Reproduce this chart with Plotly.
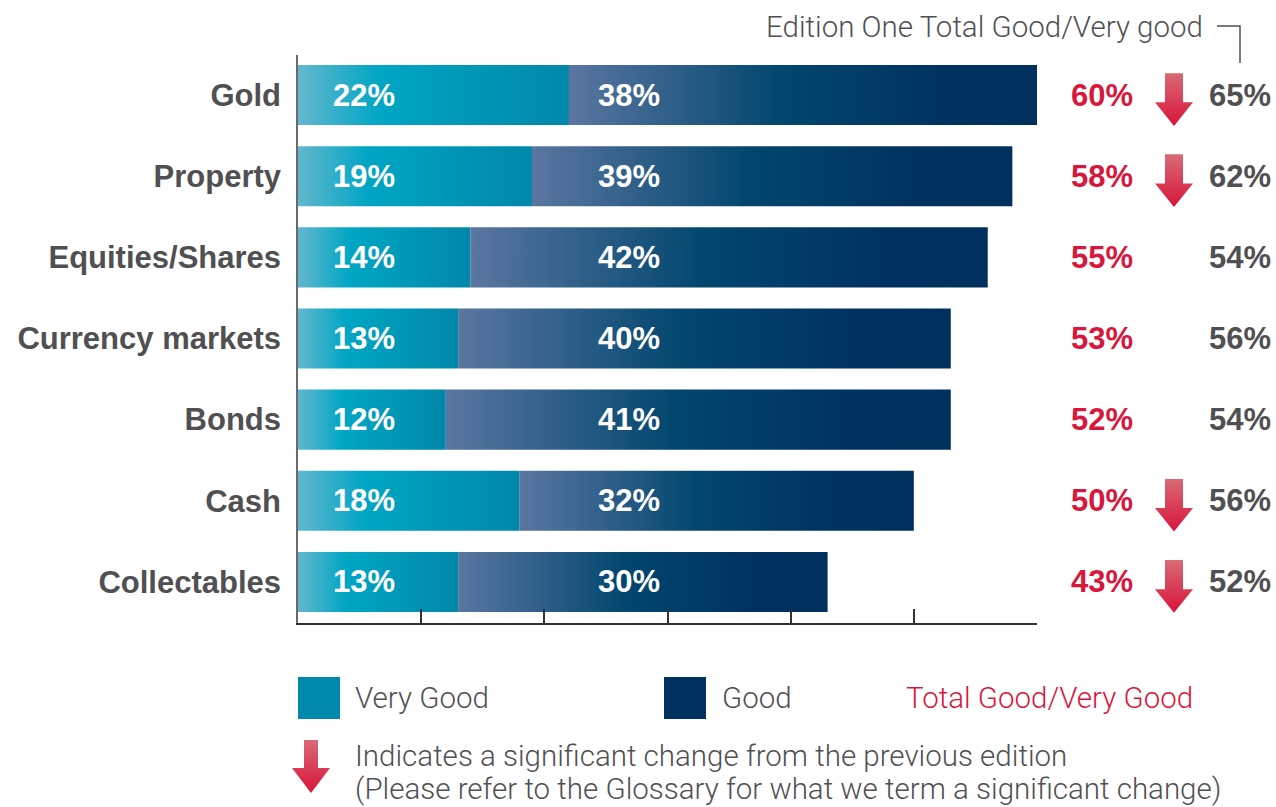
import plotly.graph_objects as go

# Asset classes, top to bottom
categories = ["Gold", "Property", "Equities/Shares", "Currency markets", "Bonds", "Cash", "Collectables"]
very_good = [22, 19, 14, 13, 12, 18, 13]
good = [38, 39, 42, 40, 41, 32, 30]
total = [60, 58, 55, 53, 52, 50, 43]
edition_one = [65, 62, 54, 56, 54, 56, 52]
significant_drop = [True, True, False, False, False, True, True]
x_ticks = [0, 10, 20, 30, 40, 50, 60]

W, H = 1276, 807
PLOT_L, PLOT_R = 298, 1037
PLOT_T, PLOT_B = 54.5, 622.5
HALF = 0.37

GREY = "#505052"
RED = "#d9173c"
TEAL = "#0089ab"
NAVY = "#00305e"
BOLD = "Liberation Sans"
LIGHT = "Roboto"

vg_scale = [[0, "#63b7ce"], [0.3, "#00a6c4"], [1, "#0087a9"]]
good_scale = [[0, "#5a76a1"], [0.45, "#02476f"], [0.8, "#003261"], [1, "#00305e"]]
# pale at the top of the arrow, deep red at the tip
arrow_scale = [[0, "#d8143a"], [1, "#d96a76"]]

fig = go.Figure()

# Stacked bars with a horizontal colour ramp in each segment
for i in range(len(categories)):
    mid = very_good[i]
    end = very_good[i] + good[i]
    for x0, x1, scale in ((0, mid, vg_scale), (mid, end, good_scale)):
        fig.add_trace(go.Scatter(
            x=[x0, x1, x1, x0, x0],
            y=[i - HALF, i - HALF, i + HALF, i + HALF, i - HALF],
            mode="lines", line=dict(width=0, color="rgba(0,0,0,0)"),
            fill="toself",
            fillgradient=dict(type="horizontal", colorscale=scale),
            hoverinfo="skip", showlegend=False,
        ))


def arrow_path(cx, top, neck, tip, shaft, head):
    xs = [cx - shaft, cx + shaft, cx + shaft, cx + head, cx, cx - head, cx - shaft, cx - shaft]
    ys = [top, top, neck, neck, tip, neck, neck, top]
    return xs, ys


# Significance arrows in the right-hand column (pixel x, category y)
for i, flag in enumerate(significant_drop):
    if not flag:
        continue
    xs, ys = arrow_path(1174, i - 0.27, i + 0.09, i + 0.38, 9, 19)
    fig.add_trace(go.Scatter(
        x=xs, y=ys, xaxis="x3", yaxis="y",
        mode="lines", line=dict(width=0, color="rgba(0,0,0,0)"),
        fill="toself", fillgradient=dict(type="vertical", colorscale=arrow_scale),
        hoverinfo="skip", showlegend=False,
    ))

# Legend arrow (pixel coordinates)
xs, ys = arrow_path(311, 740, 768, 793, 7, 19)
fig.add_trace(go.Scatter(
    x=xs, y=ys, xaxis="x2", yaxis="y2",
    mode="lines", line=dict(width=0, color="rgba(0,0,0,0)"),
    fill="toself", fillgradient=dict(type="vertical", colorscale=arrow_scale),
    hoverinfo="skip", showlegend=False,
))

value_font = dict(family=BOLD, size=31, color="white", weight="bold")
annotations = []
for i in range(len(categories)):
    annotations.append(dict(x=5.35, y=i, xref="x", yref="y", text=f"{very_good[i]}%",
                            showarrow=False, font=value_font))
    annotations.append(dict(x=26.9, y=i, xref="x", yref="y", text=f"{good[i]}%",
                            showarrow=False, font=value_font))
    annotations.append(dict(x=1102, y=i, xref="x3", yref="y", text=f"{total[i]}%",
                            showarrow=False, font=dict(value_font, color=RED)))
    annotations.append(dict(x=1240, y=i, xref="x3", yref="y", text=f"{edition_one[i]}%",
                            showarrow=False, font=dict(value_font, color=GREY)))

light = dict(family=LIGHT, size=29.5, color=GREY, weight=300)
annotations += [
    dict(x=1205, y=27, xref="x2", yref="y2", xanchor="right", text="Edition One Total Good/Very good",
         showarrow=False, font=light),
    dict(x=353, y=698, xref="x2", yref="y2", xanchor="left", text="Very Good", showarrow=False, font=light),
    dict(x=720, y=698, xref="x2", yref="y2", xanchor="left", text="Good", showarrow=False, font=light),
    dict(x=904, y=698, xref="x2", yref="y2", xanchor="left", text="Total Good/Very Good", showarrow=False,
         font=dict(light, color=RED)),
    dict(x=353, y=756, xref="x2", yref="y2", xanchor="left",
         text="Indicates a significant change from the previous edition", showarrow=False, font=light),
    dict(x=353, y=789, xref="x2", yref="y2", xanchor="left",
         text="(Please refer to the Glossary for what we term a significant change)", showarrow=False, font=light),
]

shapes = [
    dict(type="rect", xref="x2", yref="y2", x0=298, x1=340, y0=677, y1=719, fillcolor=TEAL, line=dict(width=0)),
    dict(type="rect", xref="x2", yref="y2", x0=664, x1=706, y0=677, y1=719, fillcolor=NAVY, line=dict(width=0)),
    dict(type="path", xref="x2", yref="y2", path="M1217,26 H1240 V63", line=dict(color=GREY, width=1.5)),
]

fig.update_layout(
    width=W, height=H,
    margin=dict(l=0, r=0, t=0, b=0),
    paper_bgcolor="white", plot_bgcolor="rgba(0,0,0,0)",
    showlegend=False,
    annotations=annotations, shapes=shapes,
    xaxis=dict(domain=[PLOT_L / W, PLOT_R / W], range=[0, 60], anchor="y",
               tickvals=x_ticks, ticks="inside", ticklen=14, tickcolor="#333", tickwidth=1.5,
               showticklabels=False, showline=True, linecolor="#333", linewidth=2,
               showgrid=False, zeroline=False, fixedrange=True),
    yaxis=dict(domain=[1 - PLOT_B / H, 1 - PLOT_T / H], range=[len(categories) - 0.5, -0.5], anchor="x",
               tickvals=list(range(len(categories))), ticktext=categories, ticks="",
               ticklabelstandoff=9,
               tickfont=dict(family=BOLD, size=31, color=GREY, weight="bold"),
               showline=True, linecolor="#6a6a6a", linewidth=1.5,
               showgrid=False, zeroline=False, fixedrange=True),
    xaxis2=dict(domain=[0, 1], range=[0, W], anchor="y2", visible=False, fixedrange=True),
    yaxis2=dict(domain=[0, 1], range=[H, 0], anchor="x2", visible=False, fixedrange=True),
    xaxis3=dict(domain=[0, 1], range=[0, W], anchor="y", visible=False, fixedrange=True),
)

fig.write_html("out.html")
